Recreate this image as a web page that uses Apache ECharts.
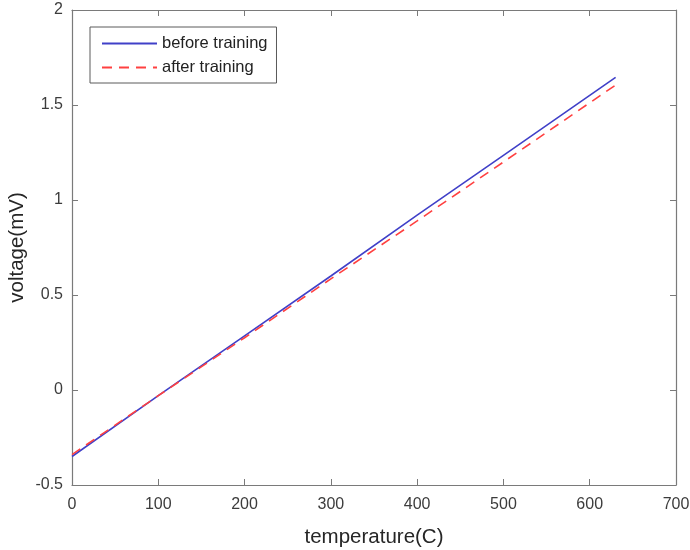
<!DOCTYPE html>
<html>
<head>
<meta charset="utf-8">
<script src="https://cdn.jsdelivr.net/npm/echarts@6/dist/echarts.min.js"></script>
<style>
  html, body { margin: 0; padding: 0; background: #fff; }
  #chart { width: 690px; height: 550px; }
</style>
</head>
<body>
<div id="chart"></div>
<script>
// Temperature sweep (C) and measured thermocouple voltage (mV)
const temperature = [0, 100, 200, 300, 400, 500, 630];
const beforeTraining = [-0.35, -0.03, 0.285, 0.60, 0.92, 1.235, 1.645];
const afterTraining = [-0.34, -0.03, 0.275, 0.585, 0.89, 1.20, 1.605];
const seriesNames = ['before training', 'after training'];

const axisGray = '#7a7a7a';
const labelColor = '#3c3c3c';
const fontFamily = '"Liberation Sans", Arial, sans-serif';

const pairs = (xs, ys) => xs.map((x, i) => [x, ys[i]]);

const chart = echarts.init(document.getElementById('chart'), null, { renderer: 'canvas' });

const frameAxis = {
  axisLine: { show: true, onZero: false, lineStyle: { color: axisGray, width: 1.2 } },
  axisTick: { show: true, inside: true, length: 6, lineStyle: { color: axisGray, width: 1 } },
  splitLine: { show: false }
};

chart.setOption({
  animation: false,
  backgroundColor: '#ffffff',
  textStyle: { fontFamily: fontFamily },
  grid: { left: 72, right: 14, top: 10, bottom: 65, containLabel: false, outerBoundsMode: 'none' },
  legend: {
    left: 90,
    top: 27,
    orient: 'vertical',
    itemWidth: 55,
    itemHeight: 16,
    itemGap: 7,
    padding: [8, 9, 7, 11],
    borderColor: '#5a5a5a',
    borderWidth: 1,
    backgroundColor: '#ffffff',
    itemStyle: { opacity: 0 },
    textStyle: { fontSize: 16.5, lineHeight: 16, color: '#222', fontFamily: fontFamily },
    data: seriesNames
  },
  xAxis: [
    Object.assign({
      type: 'value', min: 0, max: 700, interval: 100, position: 'bottom',
      name: 'temperature(C)', nameLocation: 'middle', nameGap: 42, nameMoveOverlap: false,
      nameTextStyle: { fontSize: 20.5, color: '#262626', fontFamily: fontFamily },
      axisLabel: { fontSize: 16, color: labelColor, margin: 12, fontFamily: fontFamily }
    }, frameAxis),
    Object.assign({
      type: 'value', min: 0, max: 700, interval: 100, position: 'top',
      axisLabel: { show: false }
    }, frameAxis)
  ],
  yAxis: [
    Object.assign({
      type: 'value', min: -0.5, max: 2, interval: 0.5, position: 'left',
      name: 'voltage(mV)', nameLocation: 'middle', nameGap: 44, nameMoveOverlap: false,
      nameTextStyle: { fontSize: 20.5, color: '#262626', fontFamily: fontFamily },
      axisLabel: { fontSize: 16, color: labelColor, margin: 9, fontFamily: fontFamily }
    }, frameAxis),
    Object.assign({
      type: 'value', min: -0.5, max: 2, interval: 0.5, position: 'right',
      axisLabel: { show: false }
    }, frameAxis)
  ],
  series: [
    {
      name: seriesNames[0],
      type: 'line',
      xAxisIndex: 0, yAxisIndex: 0,
      data: pairs(temperature, beforeTraining),
      symbol: 'none',
      lineStyle: { color: '#4040c8', width: 1.6, type: 'solid' },
      itemStyle: { color: '#4040c8' }
    },
    {
      name: seriesNames[1],
      type: 'line',
      xAxisIndex: 0, yAxisIndex: 0,
      data: pairs(temperature, afterTraining),
      symbol: 'none',
      lineStyle: { color: '#ff4040', width: 1.6, type: [10, 7] },
      itemStyle: { color: '#ff4040' }
    }
  ]
});
</script>
</body>
</html>
